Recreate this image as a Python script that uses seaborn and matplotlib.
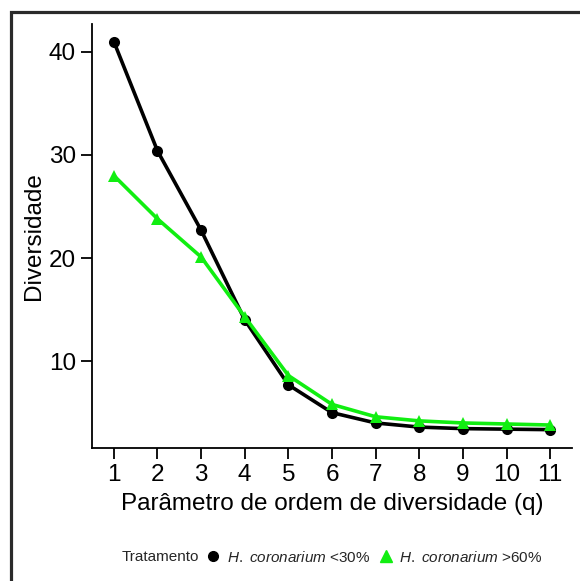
import matplotlib
matplotlib.use("Agg")
import matplotlib.pyplot as plt
import seaborn as sns
import pandas as pd
from matplotlib.lines import Line2D
from matplotlib.patches import Rectangle

q = [1, 2, 3, 4, 5, 6, 7, 8, 9, 10, 11]
low_vals = [41.0, 30.4, 22.7, 14.0, 7.7, 5.0, 4.0, 3.6, 3.45, 3.4, 3.35]
high_vals = [28.0, 23.8, 20.1, 14.3, 8.6, 5.8, 4.6, 4.2, 4.0, 3.9, 3.8]
groups = ["H. coronarium <30%", "H. coronarium >60%"]
yticks = [10, 20, 30, 40]

df = pd.DataFrame({
    "q": q + q,
    "Diversidade": low_vals + high_vals,
    "Tratamento": [groups[0]] * len(q) + [groups[1]] * len(q),
})

sns.set_theme(style="white")
plt.rcParams["font.family"] = ["Liberation Sans", "DejaVu Sans"]
plt.rcParams["mathtext.fontset"] = "custom"
plt.rcParams["mathtext.it"] = "Liberation Sans:italic"
plt.rcParams["mathtext.rm"] = "Liberation Sans"

green = "#11ee11"
colors = {groups[0]: "black", groups[1]: green}
markers = {groups[0]: "o", groups[1]: "^"}

fig = plt.figure(figsize=(5.8, 5.81), dpi=100)
ax = fig.add_axes([92 / 580, 1 - 447.7 / 581, (572 - 92) / 580, (447.7 - 24) / 581])

sns.lineplot(data=df, x="q", y="Diversidade", hue="Tratamento", style="Tratamento",
             palette=colors, markers=markers, dashes=False, linewidth=2.6,
             markersize=8, markeredgewidth=0, ax=ax, legend=False)

ax.set_xlim(0.5, 11.5)
ax.set_ylim(1.6, 42.7)
ax.set_xticks(q)
ax.set_yticks(yticks)
ax.tick_params(axis="both", direction="out", length=8, width=1.3, color="black",
               labelsize=17.5, labelcolor="black", pad=3.5, left=True, bottom=True)
for s in ["top", "right"]:
    ax.spines[s].set_visible(False)
for s in ["left", "bottom"]:
    ax.spines[s].set_color("black")
    ax.spines[s].set_linewidth(1.3)
ax.set_xlabel("Parâmetro de ordem de diversidade (q)", fontsize=17.5, color="black", labelpad=5)
ax.set_ylabel("Diversidade", fontsize=17.5, color="black", labelpad=3)

# outer border
fig.patches.append(Rectangle((10.5 / 580, -0.1), 1.2, 1.1 - 12.5 / 581,
                             transform=fig.transFigure, fill=False,
                             edgecolor="#2a2a2a", linewidth=2.3, zorder=0))

leg_y = 1 - 557 / 581
handles = [
    Line2D([], [], marker="o", color="black", linestyle="none", markersize=7),
    Line2D([], [], marker="^", color=green, linestyle="none", markersize=8),
]
labels = [r"$\mathit{H.\ coronarium}$ <30%", r"$\mathit{H.\ coronarium}$ >60%"]
fig.text(199 / 580, leg_y, "Tratamento", fontsize=11, va="center", ha="right")
fig.legend(handles, labels, loc="center left", bbox_to_anchor=(207 / 580, leg_y),
           ncol=2, frameon=False, fontsize=11, handlelength=0.8, handletextpad=0.5,
           columnspacing=0.6, borderaxespad=0, borderpad=0)

fig.savefig("out.png", dpi=100)
